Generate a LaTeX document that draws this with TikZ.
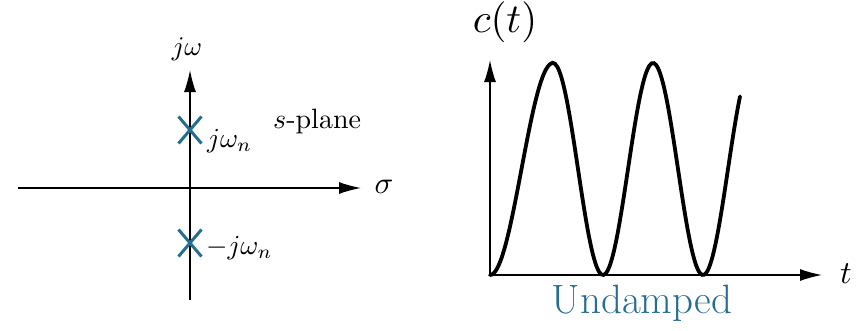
\documentclass[tikz,border=0pt]{standalone}
\usepackage{graphicx}
\usepackage{xcolor}
\usetikzlibrary{arrows.meta, shapes.misc}
\definecolor{poleblue}{RGB}{38,110,145}
\newcommand{\biglbl}[2]{\scalebox{#1}{#2}}

\begin{document}
\begin{tikzpicture}[x=1pt, y=1pt]
\tikzstyle{axis} = [line width=1.4pt, -{Latex[length=22pt,width=12pt]}]
\tikzstyle{pole} = [cross out, draw=poleblue, line width=3pt, minimum width=20pt, minimum height=24pt, inner sep=0pt]
\tikzstyle{lbl} = [inner sep=0pt]
\tikzstyle{curve} = [line width=3.8pt, line cap=round]

\useasboundingbox (0,0) rectangle (861,330);

% s-plane
\coordinate (sw) at (18,142);
\coordinate (se) at (361,142);
\coordinate (ss) at (190,30);
\coordinate (sn) at (190,260);
\draw [line width=1.4pt] (ss) -- (190,142);
\draw [axis] (190,142) -- (sn);
\draw [axis] (sw) -- (se);
\node (jw) [lbl] at (187,281) {\biglbl{2.7}{$j\omega$}};
\node (sig) [lbl] at (384,143) {\biglbl{3.1}{$\sigma$}};
\node (p1) [pole] at (190,200) {};
\node (p2) [pole] at (190,87) {};
\node (wn) [lbl, anchor=west] at (207,189) {\biglbl{2.75}{$j\omega_n$}};
\node (mwn) [lbl, anchor=west] at (206,82) {\biglbl{2.75}{$-j\omega_n$}};
\node (sp) [lbl, anchor=west] at (273,209) {\biglbl{2.8}{$s$-plane}};

% time response
\coordinate (o) at (490,55);
\coordinate (ty) at (490,270);
\coordinate (tx) at (822,55);
\draw [axis] (o) -- (ty);
\draw [axis] (o) -- (tx);
\node (ct) [lbl] at (505,308) {\biglbl{4.1}{$c(t)$}};
\node (tl) [lbl] at (846,56) {\biglbl{3.2}{$t$}};
\draw [curve] plot[domain=490:553, samples=40, smooth] (\x, {55+106*(1-cos(2.857*(\x-490)))})
  -- plot[domain=553:740, samples=90, smooth] (\x, {55+106*(1+cos(3.6*(\x-553)))});
\node (ud) [lbl, font=\fontsize{41}{45}\selectfont, text=poleblue] at (642,27) {Undamped};
\end{tikzpicture}
\end{document}
